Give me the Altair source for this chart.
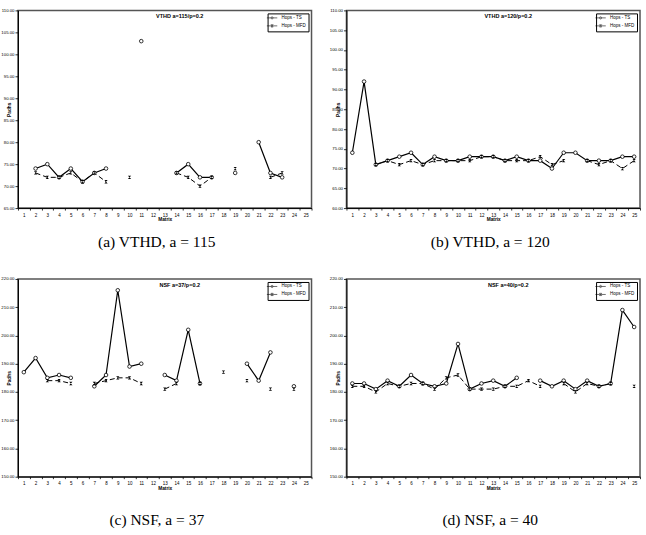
import altair as alt
import pandas as pd

N = None
matrices = list(range(1, 26))

vthd115_ts = [N, 74, 75, 72, 74, 71, 73, 74, N, N, 103, N, N, 73, 75, 72, 72, N, 73, N, 80, 73, 72, N, N]
vthd115_mfd = [N, 73, 72, 72, 73, 71, 73, 71, N, 72, N, N, N, 73, 72, 70, 72, N, 74, N, N, 72, 73, N, N]
vthd120_ts = [74, 92, 71, 72, 73, 74, 71, 73, 72, 72, 73, 73, 73, 72, 73, 72, 72, 70, 74, 74, 72, 72, 72, 73, 73]
vthd120_mfd = [N, N, 71, 72, 71, 72, 71, 72, 72, 72, 72, 73, 73, 72, 72, 72, 73, 71, 72, N, 72, 71, 72, 70, 72]
nsf37_ts = [187, 192, 185, 186, 185, N, 182, 186, 216, 189, 190, N, 186, 184, 202, 183, N, N, N, 190, 184, 194, N, 182, N]
nsf37_mfd = [N, N, 184, 184, 183, N, 183, 184, 185, 185, 183, N, 181, 183, N, 183, N, 187, N, 184, N, 181, N, 181, N]
nsf40_ts = [183, 183, 181, 184, 182, 186, 183, 182, 183, 197, 181, 183, 184, 182, 185, N, 184, 182, 184, 181, 184, 182, 183, 209, 203]
nsf40_mfd = [182, 182, 180, 183, 182, 183, 183, 181, 185, 186, 181, 181, 181, 182, 182, 184, 182, N, 183, 180, 183, 182, 183, N, 182]

series_names = ["Hops - TS", "Hops - MFD"]
inner_titles = ["VTHD  a=115/p=0.2", "VTHD  a=120/p=0.2", "NSF  a=37/p=0.2", "NSF  a=40/p=0.2"]
captions = ["(a)  VTHD, a = 115", "(b)  VTHD, a = 120", "(c)  NSF, a = 37", "(d)  NSF, a = 40"]

HOURGLASS = "M-1,-1L1,-1L-1,1L1,1Z"
LEG_TS = "M-2.6,0L2.6,0M-0.55,0A0.55,0.55,0,1,0,0.55,0A0.55,0.55,0,1,0,-0.55,0"
LEG_MFD = "M-2.6,0L2.6,0M-0.55,-0.55L0.55,-0.55L-0.55,0.55L0.55,0.55Z"

W, H = 294, 198
FONT = "Liberation Sans"


def make_df(ts, mfd):
    rows = []
    for name, vals in zip(series_names, (ts, mfd)):
        seg = 0
        for m, v in zip(matrices, vals):
            if v is None:
                seg += 1
                continue
            rows.append({"Matrix": m, "Padhs": v, "series": name, "seg": seg})
    return pd.DataFrame(rows)


def panel(ts, mfd, ymin, ymax, ystep, inner, caption, cap_off, cap_dx):
    df = make_df(ts, mfd)
    x = alt.X("Matrix:O", title="Matrix",
              scale=alt.Scale(type="band", domain=matrices, paddingInner=0, paddingOuter=0),
              axis=alt.Axis(labelAngle=0, tickBand="extent", tickSize=2, labelPadding=2,
                            titlePadding=0, grid=False, labelFontSize=4.5))
    y = alt.Y("Padhs:Q", title="Padhs",
              scale=alt.Scale(domain=[ymin, ymax], nice=False, zero=False),
              axis=alt.Axis(values=list(range(ymin, ymax + 1, ystep)), format=".2f", grid=False,
                            tickSize=3, labelPadding=1, labelFontSize=4.3,
                            titleX=-8, titleY=H / 2, titleAngle=-90, titleBaseline="middle",
                            titleAlign="center"))
    base = alt.Chart(df)
    ts_f = alt.datum.series == series_names[0]
    mfd_f = alt.datum.series == series_names[1]
    ts_line = base.transform_filter(ts_f).mark_line(color="black", strokeWidth=1.2).encode(
        x=x, y=y, detail="seg:N")
    mfd_line = base.transform_filter(mfd_f).mark_line(color="black", strokeWidth=1,
                                                      strokeDash=[5, 3]).encode(
        x=x, y=y, detail="seg:N")
    ts_pts = base.transform_filter(ts_f).mark_point(shape="circle", size=13, fill="white",
                                                    stroke="black", strokeWidth=0.8,
                                                    opacity=1).encode(x=x, y=y)
    mfd_pts = base.transform_filter(mfd_f).mark_point(shape=HOURGLASS, size=11, filled=True,
                                                      color="black", opacity=1).encode(x=x, y=y)
    leg = alt.Chart(pd.DataFrame({"series": series_names})).transform_filter("false").mark_point(
        filled=False, color="black", strokeWidth=0.8).encode(
        shape=alt.Shape("series:N",
                        scale=alt.Scale(domain=series_names, range=[LEG_TS, LEG_MFD]),
                        legend=alt.Legend(title=None, orient="top-right", offset=3,
                                          strokeColor="black", fillColor="white", padding=2,
                                          labelFontSize=4.5, labelFont=FONT, labelOffset=7,
                                          rowPadding=1, symbolSize=16, symbolStrokeWidth=0.8,
                                          symbolStrokeColor="black", labelLimit=80)))
    txt = alt.Chart(pd.DataFrame({"t": [inner]})).mark_text(
        font=FONT, fontSize=5.5, fontWeight="bold", align="center", baseline="middle",
        color="black").encode(text="t:N", x=alt.value(162), y=alt.value(6))
    return alt.layer(ts_line, mfd_line, ts_pts, mfd_pts, leg, txt).properties(
        width=W, height=H,
        title=alt.Title(caption, orient="bottom", anchor="middle", frame="group",
                        offset=cap_off, dx=cap_dx, baseline="middle",
                        font="Liberation Serif", fontSize=15.5, fontWeight="normal",
                        color="black"))


pa = panel(vthd115_ts, vthd115_mfd, 65, 110, 5, inner_titles[0], captions[0], 21, -8)
pb = panel(vthd120_ts, vthd120_mfd, 60, 110, 5, inner_titles[1], captions[1], 21, -3)
pc = panel(nsf37_ts, nsf37_mfd, 150, 220, 10, inner_titles[2], captions[2], 30, -8)
pd_ = panel(nsf40_ts, nsf40_mfd, 150, 220, 10, inner_titles[3], captions[3], 30, -3)

chart = alt.concat(pa, pb, pc, pd_, columns=2,
                   spacing={"row": 71, "column": 35}, bounds="flush").resolve_scale(
    shape="independent", x="independent", y="independent"
).resolve_legend(shape="independent").properties(
    padding={"left": 0, "top": 7, "right": 4, "bottom": 4}
).configure_view(stroke="#555555", strokeWidth=1.5).configure_axis(
    labelFont=FONT, labelColor="black", tickColor="black", domainColor="black",
    titleFont=FONT, titleFontSize=4.8, titleFontWeight="bold", titleColor="black",
    tickWidth=0.8, domainWidth=1)

chart.save("out.html", embed_options={"renderer": "svg", "actions": False})
